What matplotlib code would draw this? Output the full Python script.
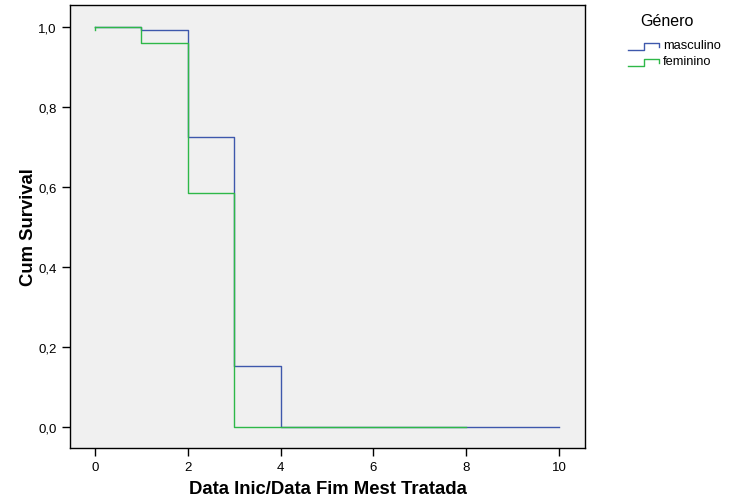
import numpy as np
import matplotlib.pyplot as plt
from matplotlib.lines import Line2D

# Kaplan-Meier step values
t_masc = [0, 1, 2, 3, 4, 10]
s_masc = [1.0, 0.993, 0.725, 0.153, 0.0, 0.0]

t_fem = [0, 1, 2, 3, 8]
s_fem = [1.0, 0.96, 0.585, 0.0, 0.0]
s_fem_start = 0.993

groups = ["masculino", "feminino"]
colors = ["#3E58AC", "#2EB848"]

y_ticks = [0.0, 0.2, 0.4, 0.6, 0.8, 1.0]
x_ticks = [0, 2, 4, 6, 8, 10]

plt.rcParams['font.family'] = ['Liberation Sans', 'DejaVu Sans']

fig = plt.figure(figsize=(7.32, 5.02), dpi=100)
ax = fig.add_axes([70 / 732, 1 - 449 / 502, 515 / 732, 443 / 502])
ax.set_facecolor("#f0f0f0")

ax.step(t_masc, s_masc, where="post", color=colors[0], lw=1.0)
ax.plot([t_fem[0], t_fem[0]], [s_fem_start, s_fem[0]], color=colors[1], lw=1.0)
ax.step(t_fem, s_fem, where="post", color=colors[1], lw=1.0)

ax.set_xlim(-0.54, 10.56)
ax.set_ylim(-0.0525, 1.055)
ax.set_xticks(x_ticks)
ax.set_xticklabels([str(v) for v in x_ticks])
ax.set_yticks(y_ticks)
ax.set_yticklabels([f"{v:.1f}".replace(".", ",") for v in y_ticks])
ax.tick_params(direction="out", length=6, width=1, labelsize=9.5, colors="black")
for sp in ax.spines.values():
    sp.set_linewidth(1.0)

ax.set_xlabel("Data Inic/Data Fim Mest Tratada", fontsize=13.3, fontweight="bold", labelpad=5)
ax.set_ylabel("Cum Survival", fontsize=13.3, fontweight="bold", labelpad=1)

# legend drawn by hand with step-shaped markers
W, H = 732, 502
fig.text(667 / W, 1 - 21 / H, "Género", ha="center", va="center", fontsize=11.5)
for i, (g, c) in enumerate(zip(groups, colors)):
    y0 = 51 + i * 16
    xs = np.array([628, 644, 644, 659, 659]) / W
    ys = 1 - np.array([y0, y0, y0 - 7, y0 - 7, y0 - 3]) / H
    fig.add_artist(Line2D(xs, ys, color=c, lw=1.0))
    fig.text(663 / W, 1 - (y0 - 5) / H, g, ha="left", va="center", fontsize=9.3)

fig.savefig("out.png", dpi=100)
